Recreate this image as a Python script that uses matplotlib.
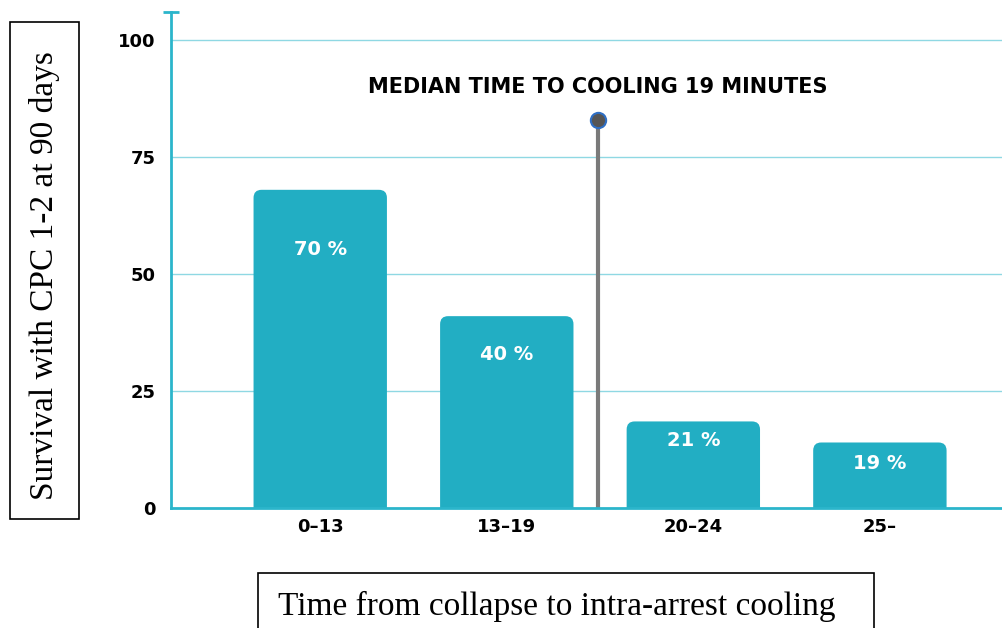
import matplotlib.pyplot as plt
from matplotlib.patches import FancyBboxPatch, Rectangle
import numpy as np

# data
categories = ["0\u201313", "13\u201319", "20\u201324", "25\u2013"]
bar_heights = [68, 41, 18.5, 14]
bar_labels = ["70 %", "40 %", "21 %", "19 %"]
median_pos = 1.49        # between 2nd and 3rd group
median_top = 83
median_title = "MEDIAN TIME TO COOLING 19 MINUTES"
yticks = [0, 25, 50, 75, 100]

BAR = "#22aec3"
AXIS = "#2bb5cb"
GRID = "#8fd8e3"
SANS = "DejaVu Sans"

fig = plt.figure(figsize=(10.03, 6.28), dpi=100)
ax = fig.add_axes([171 / 1003, (628 - 508) / 628, 1 - 171 / 1003, (508 - 12) / 628])
ax.set_xlim(-0.8, 3.66)
ax.set_ylim(0, 106)

# rounded corners need the aspect of the data units on screen
fig.canvas.draw()
p0 = ax.transData.transform((0, 0))
p1 = ax.transData.transform((1, 1))
px_x = p1[0] - p0[0]
px_y = p1[1] - p0[1]
radius_px = 8
width = 0.715

x = np.arange(len(categories))
label_offsets = [60, 38, 19, 21]  # px below bar top
for xi, h, lab, off in zip(x, bar_heights, bar_labels, label_offsets):
    patch = FancyBboxPatch((xi - width / 2, -10), width, h + 10,
                           boxstyle="round,pad=0,rounding_size=%f" % (radius_px / px_x),
                           mutation_aspect=px_x / px_y,
                           fc=BAR, ec="none", zorder=2)
    ax.add_patch(patch)
    ax.text(xi, h - off / px_y, lab, color="white", ha="center", va="center",
            fontsize=14, fontweight="bold", family=SANS, zorder=4)

for y in yticks[1:]:
    ax.axhline(y, color=GRID, lw=1, zorder=1)

# median marker
ax.plot([median_pos, median_pos], [0, median_top], color="#7a7a7a", lw=3, zorder=3,
        solid_capstyle="butt")
ax.plot([median_pos], [median_top], "o", ms=11, mfc="#555555", mec="#2f6fc4", mew=1.5, zorder=5)
ax.text(median_pos, 90.0, median_title, ha="center", va="center", fontsize=15,
        fontweight="bold", family=SANS, zorder=4)

for s in ["top", "right"]:
    ax.spines[s].set_visible(False)
ax.spines["left"].set_color(AXIS)
ax.spines["left"].set_linewidth(2)
ax.spines["bottom"].set_color(AXIS)
ax.spines["bottom"].set_linewidth(2)
ax.spines["bottom"].set_zorder(6)
# small cap at top of the y axis
ax.plot([-0.8], [106], marker="_", ms=12, mew=2, color=AXIS, clip_on=False, zorder=6)

ax.set_yticks(yticks)
ax.set_yticklabels([str(v) for v in yticks])
ax.set_xticks(x)
ax.set_xticklabels(categories)
ax.tick_params(axis="y", length=0, pad=11)
ax.tick_params(axis="x", length=0, pad=7)
for t in ax.get_yticklabels() + ax.get_xticklabels():
    t.set_fontweight("bold")
    t.set_family(SANS)
    t.set_fontsize(13)

# boxed axis titles
fig.patches.append(Rectangle((10 / 1003, (628 - 519) / 628), 69 / 1003, 497 / 628,
                             transform=fig.transFigure, fill=False, ec="black", lw=1.2))
fig.text(45 / 1003, (628 - 276) / 628, "Survival with CPC 1-2 at 90 days", rotation=90,
         ha="center", va="center", fontsize=24, family="Liberation Serif")
fig.patches.append(Rectangle((258 / 1003, -0.02), 616 / 1003, (628 - 573) / 628 + 0.02,
                             transform=fig.transFigure, fill=False, ec="black", lw=1.2))
fig.text(278 / 1003, (628 - 606) / 628, "Time from collapse to intra-arrest cooling",
         ha="left", va="center", fontsize=24, family="Liberation Serif")

fig.savefig("out.png", dpi=100)
